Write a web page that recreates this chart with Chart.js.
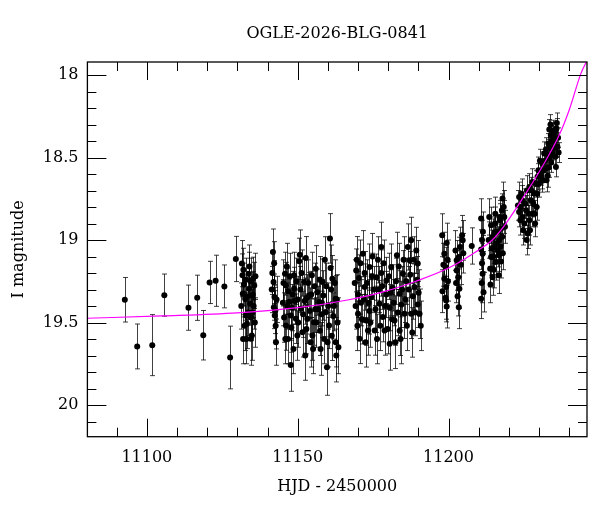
<!DOCTYPE html>
<html>
<head>
<meta charset="utf-8">
<title>OGLE-2026-BLG-0841</title>
<script src="https://cdn.jsdelivr.net/npm/chart.js@4.4.1/dist/chart.umd.min.js"></script>
<style>
  body { margin: 0; background: #fff; }
  #lc { display: block; }
</style>
</head>
<body>
<canvas id="lc" width="600" height="512"></canvas>
<script>
// DATOS
const chartTitle = 'OGLE-2026-BLG-0841';
const xTitle = 'HJD - 2450000';
const yTitle = 'I magnitude';
const xTickLabels = [11100, 11150, 11200];
const yTickLabels = [18, 18.5, 19, 19.5, 20];

// observations: time, magnitude, error (same order in the three arrays)
const hjd = [
  11092.7, 11096.8, 11101.8, 11105.8, 11113.8, 11116.7, 11118.7, 11120.8, 11122.8, 11125.7, 11127.6, 11129.5,
  11131.5, 11131.7, 11131.8, 11131.9, 11132.2, 11132.6, 11132.8, 11133.0, 11133.2, 11133.7, 11133.9, 11134.2,
  11134.5, 11134.8, 11134.8, 11135.0, 11135.2, 11135.4, 11135.6,
  11141.6, 11141.8, 11142.0, 11142.1, 11142.3, 11142.4, 11142.6, 11142.8,
  11145.3, 11145.8, 11146.1, 11146.1, 11146.6, 11146.8, 11147.2, 11147.7, 11147.7, 11148.3, 11148.8, 11148.8,
  11149.4, 11149.9, 11150.0, 11150.5, 11150.7, 11151.0, 11151.6, 11152.1, 11152.5, 11152.7, 11153.1, 11153.2,
  11153.8, 11154.3, 11154.7, 11154.9, 11155.4, 11155.8, 11156.0, 11156.5, 11157.1, 11157.6, 11157.9, 11158.2,
  11158.5, 11159.0, 11159.3, 11159.7, 11159.9, 11160.4, 11160.7, 11161.1, 11161.5, 11162.0, 11162.6, 11162.6,
  11162.8, 11163.2,
  11168.9, 11169.4, 11169.6, 11170.0, 11170.0, 11170.5, 11171.0, 11171.6, 11172.2, 11172.2, 11172.7, 11173.3,
  11173.8, 11173.8, 11174.4, 11174.8, 11175.5, 11176.1, 11176.6, 11177.1, 11177.7, 11177.7, 11178.2, 11178.8,
  11179.4, 11179.4, 11180.5, 11180.5, 11181.0, 11181.5, 11182.1, 11182.4, 11182.9, 11183.8, 11183.8, 11184.4,
  11184.9, 11185.4, 11186.0, 11186.5, 11187.1, 11187.6, 11187.6, 11188.2, 11188.7, 11189.3, 11189.8, 11189.8,
  11190.4,
  11197.9, 11198.0, 11198.6, 11198.6, 11199.0, 11199.2, 11199.2, 11199.4, 11199.4, 11199.7,
  11202.3, 11202.7, 11202.7, 11203.2, 11203.4, 11203.4, 11203.6, 11203.8, 11204.5, 11204.7, 11207.7,
  11210.8, 11211.1, 11210.8, 11211.3, 11211.1, 11211.3, 11211.6, 11210.8,
  11213.5, 11213.8, 11214.1, 11214.1, 11214.6, 11214.6, 11215.2, 11215.2, 11215.5, 11215.7, 11215.9, 11216.3,
  11216.6, 11216.6, 11216.8, 11217.0, 11217.4, 11217.4, 11217.7, 11217.9, 11218.0, 11218.5,
  11223.4, 11223.4, 11224.0, 11224.5, 11224.5, 11225.1, 11225.7, 11226.2, 11226.8, 11226.8, 11227.3, 11227.8,
  11227.8, 11228.4, 11228.7, 11229.2, 11229.5, 11229.8,
  11230.6, 11231.1, 11231.1, 11231.7, 11232.3, 11232.3, 11232.5, 11232.9, 11233.1, 11233.4, 11233.4, 11233.9,
  11234.0, 11234.3, 11234.7, 11234.8, 11235.0, 11235.4, 11235.6, 11235.8, 11236.1,
  // second pass over the dense groups
  11131.3, 11132.0, 11132.4, 11133.4, 11133.6, 11134.0, 11134.4, 11135.1, 11135.8, 11136.0, 11132.9, 11134.6,
  11141.4, 11142.2, 11142.7, 11143.0,
  11145.1, 11145.5, 11145.9, 11146.4, 11146.9, 11147.4, 11147.9, 11148.1, 11148.6, 11149.1, 11149.6, 11150.2,
  11150.9, 11151.3, 11151.8, 11152.3, 11152.9, 11153.5, 11154.0, 11154.5, 11155.1, 11155.6, 11156.2, 11156.8,
  11157.3, 11157.4, 11158.0, 11158.8, 11159.5, 11160.1, 11160.9, 11161.3, 11161.8, 11162.3, 11163.0, 11163.5,
  11169.2, 11169.8, 11170.3, 11170.8, 11171.3, 11171.9, 11172.5, 11173.0, 11173.5, 11174.1, 11174.6, 11175.2,
  11175.8, 11176.3, 11176.9, 11177.4, 11178.0, 11178.5, 11179.0, 11179.8, 11180.2, 11180.8, 11181.3, 11181.8,
  11182.6, 11183.2, 11183.5, 11184.1, 11184.6, 11185.1, 11185.7, 11186.2, 11186.8, 11187.3, 11188.0, 11188.5,
  11189.0, 11189.6, 11190.1, 11190.8,
  11198.3, 11199.0, 11199.8,
  11202.5, 11203.0, 11204.1, 11204.9,
  11211.4, 11211.0,
  11213.3, 11214.3, 11215.0, 11215.4, 11216.0, 11216.9, 11217.2, 11217.8, 11218.3, 11218.7, 11214.8, 11213.9,
  11223.0, 11223.8, 11224.2, 11224.8, 11225.4, 11226.0, 11226.5, 11227.0, 11227.5, 11228.1, 11228.9, 11229.4,
  11229.9, 11228.6, 11225.9,
  11230.3, 11230.9, 11231.4, 11232.0, 11232.7, 11233.2, 11233.7, 11234.2, 11234.5, 11235.2, 11235.6, 11236.3,
  11236.5, 11233.8, 11235.9
];
const mag = [
  19.362, 19.645, 19.637, 19.334, 19.410, 19.350, 19.577, 19.257, 19.247, 19.281, 19.712, 19.115,
  19.143, 19.214, 19.326, 19.600, 19.270, 19.356, 19.457, 19.600, 19.508, 19.204, 19.295, 19.386,
  19.599, 19.336, 19.579, 19.440, 19.234, 19.400, 19.275,
  19.200, 19.073, 19.255, 19.407, 19.346, 19.457, 19.427, 19.619,
  19.260, 19.204, 19.275, 19.518, 19.400, 19.600, 19.376, 19.457, 19.757, 19.330, 19.295, 19.214,
  19.477, 19.579, 19.360, 19.129, 19.089, 19.417, 19.559, 19.255, 19.700, 19.109, 19.350, 19.477,
  19.336, 19.620, 19.214, 19.579, 19.498, 19.420, 19.174, 19.316, 19.376, 19.660, 19.450, 19.255,
  19.336, 19.120, 19.437, 19.771, 19.619, 19.518, 18.990, 19.300, 19.234, 19.400, 19.356, 19.619,
  19.700, 19.500,
  19.260, 19.184, 19.119, 19.330, 19.447, 19.599, 19.380, 19.083, 19.285, 19.200, 19.488, 19.548,
  19.164, 19.430, 19.346, 19.100, 19.548, 19.225, 19.120, 19.386, 19.042, 19.200, 19.467, 19.548,
  19.245, 19.330, 19.629, 19.410, 19.164, 19.290, 19.488, 19.619, 19.093, 19.326, 19.550, 19.390,
  19.204, 19.447, 19.250, 19.042, 19.123, 19.447, 19.002, 19.340, 19.285, 19.063, 19.143, 19.390,
  19.447,
  18.971, 19.310, 19.083, 19.234, 19.164, 19.285, 19.366, 19.018, 19.403, 19.120,
  19.063, 19.123, 19.184, 19.225, 19.103, 19.407, 19.295, 19.042, 18.971, 19.002, 19.036,
  18.870, 19.000, 19.058, 19.083, 19.140, 19.204, 19.316, 19.356,
  18.860, 19.174, 18.911, 19.103, 18.982, 19.225, 19.042, 18.960, 18.840, 19.133, 19.020, 19.063,
  19.214, 19.090, 19.002, 18.880, 18.931, 19.130, 18.820, 18.749, 19.080, 18.860,
  18.739, 18.830, 18.800, 18.860, 18.760, 18.900, 18.820, 18.961, 18.678, 18.880, 18.759, 18.648,
  18.840, 18.718, 18.900, 18.800, 18.617, 18.577,
  18.597, 18.536, 18.640, 18.475, 18.567, 18.450, 18.638, 18.610, 18.415, 18.506, 18.330, 18.364,
  18.530, 18.455, 18.334, 18.370, 18.405, 18.496, 18.557, 18.324, 18.435,
  // second pass
  19.40, 19.18, 19.52, 19.34, 19.44, 19.16, 19.25, 19.33, 19.50, 19.22, 19.24, 19.47,
  19.30, 19.14, 19.52, 19.36,
  19.38, 19.47, 19.60, 19.16, 19.31, 19.22, 19.53, 19.41, 19.66, 19.37, 19.25, 19.50,
  19.30, 19.20, 19.45, 19.37, 19.54, 19.26, 19.43, 19.33, 19.66, 19.28, 19.50, 19.42,
  19.24, 19.55, 19.38, 19.60, 19.28, 19.40, 19.17, 19.58, 19.46, 19.26, 19.36, 19.65,
  19.40, 19.52, 19.23, 19.14, 19.48, 19.36, 19.62, 19.26, 19.38, 19.50, 19.22, 19.30,
  19.42, 19.60, 19.30, 19.52, 19.28, 19.14, 19.40, 19.54, 19.22, 19.32, 19.48, 19.38,
  19.25, 19.44, 19.16, 19.60, 19.30, 19.12, 19.36, 19.52, 19.30, 19.21, 19.56, 19.12,
  19.44, 19.24, 19.32, 19.52,
  19.15, 19.35, 19.25,
  19.26, 19.34, 19.15, 19.08,
  18.95, 19.26,
  19.00, 19.05, 19.18, 18.90, 18.95, 18.86, 19.04, 18.98, 18.80, 18.92, 19.10, 19.27,
  18.79, 18.88, 18.72, 18.94, 18.78, 18.70, 18.84, 18.94, 18.70, 18.78, 18.66, 18.72,
  18.66, 18.84, 19.00,
  18.52, 18.62, 18.58, 18.52, 18.48, 18.56, 18.44, 18.40, 18.48, 18.35, 18.44, 18.38,
  18.47, 18.30, 18.29
];
const magErr = [
  0.135, 0.136, 0.185, 0.128, 0.137, 0.137, 0.150, 0.128, 0.155, 0.130, 0.190, 0.137,
  0.14, 0.13, 0.14, 0.15, 0.13, 0.13, 0.14, 0.15, 0.15, 0.13, 0.14, 0.13,
  0.16, 0.14, 0.15, 0.14, 0.13, 0.14, 0.14,
  0.13, 0.14, 0.13, 0.13, 0.14, 0.15, 0.14, 0.14,
  0.14, 0.13, 0.14, 0.15, 0.14, 0.15, 0.14, 0.15, 0.16, 0.14, 0.13, 0.14,
  0.15, 0.15, 0.14, 0.14, 0.15, 0.14, 0.15, 0.14, 0.15, 0.13, 0.14, 0.15,
  0.14, 0.15, 0.14, 0.15, 0.14, 0.14, 0.14, 0.14, 0.15, 0.16, 0.14, 0.14,
  0.15, 0.14, 0.15, 0.17, 0.15, 0.14, 0.15, 0.14, 0.14, 0.15, 0.14, 0.15,
  0.16, 0.15,
  0.14, 0.13, 0.14, 0.14, 0.14, 0.15, 0.14, 0.14, 0.14, 0.13, 0.15, 0.15,
  0.14, 0.14, 0.14, 0.14, 0.15, 0.14, 0.14, 0.14, 0.15, 0.14, 0.15, 0.15,
  0.14, 0.14, 0.16, 0.14, 0.14, 0.14, 0.15, 0.16, 0.14, 0.14, 0.15, 0.14,
  0.14, 0.15, 0.14, 0.14, 0.14, 0.15, 0.14, 0.14, 0.14, 0.14, 0.14, 0.14,
  0.15,
  0.13, 0.13, 0.13, 0.13, 0.12, 0.13, 0.13, 0.12, 0.13, 0.12,
  0.12, 0.12, 0.12, 0.12, 0.12, 0.13, 0.12, 0.12, 0.12, 0.12, 0.11,
  0.12, 0.12, 0.12, 0.11, 0.12, 0.12, 0.12, 0.12,
  0.11, 0.11, 0.11, 0.11, 0.11, 0.11, 0.10, 0.10, 0.10, 0.11, 0.10, 0.10,
  0.11, 0.10, 0.10, 0.10, 0.10, 0.10, 0.10, 0.10, 0.10, 0.10,
  0.09, 0.09, 0.09, 0.09, 0.09, 0.09, 0.09, 0.09, 0.08, 0.09, 0.08, 0.08,
  0.08, 0.08, 0.08, 0.08, 0.08, 0.08,
  0.07, 0.07, 0.07, 0.07, 0.07, 0.07, 0.07, 0.07, 0.06, 0.06, 0.06, 0.06,
  0.06, 0.06, 0.06, 0.06, 0.06, 0.06, 0.06, 0.06, 0.06,
  // second pass
  0.14, 0.13, 0.15, 0.14, 0.14, 0.13, 0.14, 0.14, 0.15, 0.14, 0.13, 0.14,
  0.14, 0.13, 0.14, 0.14,
  0.14, 0.15, 0.15, 0.14, 0.14, 0.14, 0.15, 0.14, 0.15, 0.14, 0.14, 0.15,
  0.14, 0.14, 0.14, 0.14, 0.15, 0.14, 0.14, 0.14, 0.15, 0.14, 0.15, 0.14,
  0.14, 0.15, 0.14, 0.15, 0.14, 0.14, 0.14, 0.15, 0.14, 0.14, 0.15, 0.16,
  0.14, 0.15, 0.14, 0.14, 0.15, 0.14, 0.15, 0.14, 0.14, 0.15, 0.14, 0.14,
  0.14, 0.15, 0.14, 0.15, 0.14, 0.14, 0.14, 0.15, 0.14, 0.14, 0.15, 0.14,
  0.14, 0.14, 0.14, 0.15, 0.14, 0.14, 0.14, 0.15, 0.14, 0.14, 0.15, 0.14,
  0.14, 0.14, 0.14, 0.15,
  0.13, 0.13, 0.12,
  0.12, 0.12, 0.12, 0.12,
  0.12, 0.12,
  0.11, 0.11, 0.11, 0.10, 0.10, 0.10, 0.10, 0.10, 0.10, 0.10, 0.11, 0.11,
  0.09, 0.09, 0.09, 0.09, 0.09, 0.09, 0.09, 0.09, 0.08, 0.08, 0.08, 0.08,
  0.08, 0.08, 0.09,
  0.07, 0.07, 0.07, 0.07, 0.07, 0.06, 0.06, 0.06, 0.06, 0.06, 0.06, 0.06,
  0.06, 0.06, 0.06
];

// model curve (magenta), read at a few times
const modelHjd = [11080.3, 11105, 11130, 11150, 11167, 11178, 11189, 11200, 11210, 11214.5, 11219, 11225.6, 11231, 11236.7, 11240, 11243.9, 11246];
const modelMag = [19.474, 19.46, 19.441, 19.41, 19.362, 19.316, 19.251, 19.17, 19.06, 19.0, 18.90, 18.718, 18.557, 18.364, 18.212, 17.99, 17.91];

const serif = "'DejaVu Serif', 'Liberation Serif', serif";

// BARRAS DE ERROR
const errorBars = {
  id: 'errorBars',
  beforeDatasetsDraw(chart) {
    const ctx = chart.ctx;
    const x = chart.scales.x, y = chart.scales.y;
    ctx.save();
    ctx.strokeStyle = 'rgba(0,0,0,0.75)';
    ctx.lineWidth = 1;
    for (let i = 0; i < hjd.length; i++) {
      const px = Math.round(x.getPixelForValue(hjd[i])) + 0.5;
      const top = y.getPixelForValue(mag[i] - magErr[i]);
      const bot = y.getPixelForValue(mag[i] + magErr[i]);
      ctx.beginPath();
      ctx.moveTo(px, top); ctx.lineTo(px, bot);
      ctx.moveTo(px - 2.5, top); ctx.lineTo(px + 2.5, top);
      ctx.moveTo(px - 2.5, bot); ctx.lineTo(px + 2.5, bot);
      ctx.stroke();
    }
    ctx.restore();
  }
};

// MARCO, TICKS HACIA ADENTRO Y TITULO
const frameTicks = {
  id: 'frameTicks',
  afterDraw(chart) {
    const ctx = chart.ctx;
    const a = chart.chartArea;
    const x = chart.scales.x, y = chart.scales.y;
    ctx.save();
    ctx.strokeStyle = '#000';
    ctx.lineWidth = 1.3;
    ctx.strokeRect(a.left, a.top, a.right - a.left, a.bottom - a.top);
    ctx.lineWidth = 1;
    ctx.beginPath();
    for (let d = 11090; d <= 11240; d += 10) {
      const px = Math.round(x.getPixelForValue(d)) + 0.5;
      const len = d % 50 === 0 ? 18 : 9;
      ctx.moveTo(px, a.bottom); ctx.lineTo(px, a.bottom - len);
      ctx.moveTo(px, a.top); ctx.lineTo(px, a.top + len);
    }
    for (let k = 180; k <= 201; k++) {
      const py = Math.round(y.getPixelForValue(k / 10)) + 0.5;
      const len = k % 5 === 0 ? 19 : 9;
      ctx.moveTo(a.left, py); ctx.lineTo(a.left + len, py);
      ctx.moveTo(a.right, py); ctx.lineTo(a.right - len, py);
    }
    ctx.stroke();

    ctx.fillStyle = '#000';
    ctx.font = '16px ' + serif;
    ctx.textAlign = 'center';
    ctx.textBaseline = 'middle';
    ctx.fillText(chartTitle, (a.left + a.right) / 2, 34);
    ctx.restore();
  }
};

const ctx = document.getElementById('lc');

new Chart(ctx, {
  type: 'scatter',
  data: {
    datasets: [
      {
        label: 'model',
        data: modelHjd.map((h, i) => ({ x: h, y: modelMag[i] })),
        showLine: true,
        borderColor: '#ff00ff',
        borderWidth: 1.2,
        pointRadius: 0,
        cubicInterpolationMode: 'monotone',
        fill: false,
        order: 0
      },
      {
        label: 'OGLE',
        data: hjd.map((h, i) => ({ x: h, y: mag[i] })),
        pointRadius: 3,
        pointBackgroundColor: '#000',
        pointBorderWidth: 0,
        order: 1
      }
    ]
  },
  options: {
    responsive: false,
    animation: false,
    events: [],
    layout: { padding: { top: 62, right: 13, left: 0, bottom: 0 } },
    plugins: {
      legend: { display: false },
      tooltip: { enabled: false },
      title: { display: false }
    },
    scales: {
      x: {
        type: 'linear',
        min: 11080.3,
        max: 11245.9,
        grid: { display: false, drawTicks: false },
        border: { display: false },
        afterBuildTicks: s => { s.ticks = xTickLabels.map(v => ({ value: v })); },
        afterFit: s => { s.height = 75.3; },
        ticks: {
          padding: 12,
          color: '#000',
          font: { family: serif, size: 16 },
          callback: v => String(v)
        },
        title: {
          display: true,
          text: xTitle,
          color: '#000',
          font: { family: serif, size: 16 },
          padding: { top: 4, bottom: 16 }
        }
      },
      y: {
        type: 'linear',
        reverse: true,
        min: 17.921,
        max: 20.192,
        grid: { display: false, drawTicks: false },
        border: { display: false },
        afterBuildTicks: s => { s.ticks = yTickLabels.map(v => ({ value: v })); },
        afterFit: s => { s.width = 87.4; },
        ticks: {
          padding: 9,
          color: '#000',
          font: { family: serif, size: 16 },
          callback: v => String(v)
        },
        title: {
          display: true,
          text: yTitle,
          color: '#000',
          font: { family: serif, size: 16 },
          padding: { top: 9, bottom: 0 }
        }
      }
    }
  },
  plugins: [errorBars, frameTicks]
});
</script>
</body>
</html>
